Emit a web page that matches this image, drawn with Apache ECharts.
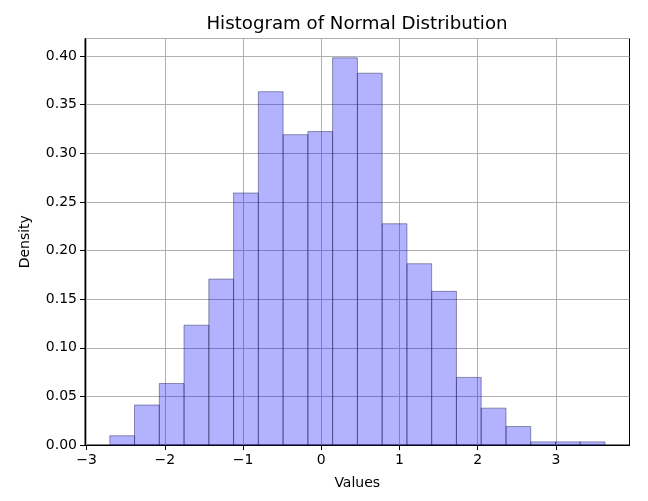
<!DOCTYPE html>
<html>
<head>
<meta charset="utf-8">
<script src="https://cdn.jsdelivr.net/npm/echarts@6/dist/echarts.min.js"></script>
<style>html,body{margin:0;padding:0;background:#fff;}#chart{width:648px;height:501px;}</style>
</head>
<body>
<div id="chart"></div>
<script>
const binEdges = [-2.703, -2.387, -2.070, -1.754, -1.437, -1.121, -0.804, -0.488, -0.171, 0.145, 0.462, 0.778, 1.095, 1.411, 1.728, 2.044, 2.361, 2.677, 2.994, 3.310, 3.627];
const densities = [0.0095, 0.0411, 0.0632, 0.1232, 0.1706, 0.2591, 0.3633, 0.3191, 0.3223, 0.3981, 0.3823, 0.2275, 0.1864, 0.1580, 0.0695, 0.0379, 0.0190, 0.0032, 0.0032, 0.0032];
const xTicks = [-3, -2, -1, 0, 1, 2, 3];
const titleText = 'Histogram of Normal Distribution';
const xName = 'Values';
const yName = 'Density';

const data = densities.map((d, i) => [binEdges[i], binEdges[i + 1], d]);

const chart = echarts.init(document.getElementById('chart'));
const font = 'DejaVu Sans';
chart.setOption({
  animation: false,
  backgroundColor: '#fff',
  title: {
    text: titleText, left: 352, top: 10, textAlign: 'center',
    textStyle: { fontFamily: font, fontSize: 18.2, fontWeight: 'normal', color: '#000' }
  },
  grid: { left: 85, top: 38.5, right: 18.5, bottom: 56, show: true, borderColor: '#000', borderWidth: 1, containLabel: false },
  xAxis: {
    type: 'value', min: -3.02, max: 3.94,
    name: xName, nameLocation: 'middle', nameGap: 31,
    nameTextStyle: { fontFamily: font, fontSize: 14, color: '#000' },
    axisLine: { show: true, onZero: false, lineStyle: { color: '#000', width: 1 } },
    axisTick: { show: true, inside: false, length: 5, customValues: xTicks, lineStyle: { color: '#000' } },
    axisLabel: { customValues: xTicks, margin: 8, fontFamily: font, fontSize: 14, color: '#000',
      formatter: v => String(v).replace('-', '\u2212') },
    splitLine: { show: true, lineStyle: { color: '#b0b0b0', width: 1 } }
  },
  yAxis: {
    type: 'value', min: 0, max: 0.418, interval: 0.05,
    name: yName, nameLocation: 'middle', nameGap: 53,
    nameTextStyle: { fontFamily: font, fontSize: 14, color: '#000' },
    axisLine: { show: true, onZero: false, lineStyle: { color: '#000', width: 1 } },
    axisTick: { show: true, length: 5, lineStyle: { color: '#000' } },
    axisLabel: { margin: 8, fontFamily: font, fontSize: 14, color: '#000', formatter: v => v.toFixed(2), showMaxLabel: false },
    splitLine: { show: true, lineStyle: { color: '#b0b0b0', width: 1 } }
  },
  series: [{
    type: 'custom',
    data: data,
    encode: { x: [0, 1], y: 2 },
    renderItem: function (params, api) {
      const p0 = api.coord([api.value(0), api.value(2)]);
      const p1 = api.coord([api.value(1), 0]);
      return {
        type: 'rect',
        shape: { x: p0[0], y: p0[1], width: p1[0] - p0[0], height: p1[1] - p0[1] },
        style: { fill: 'rgba(0,0,255,0.3)', stroke: 'rgba(30,30,80,0.45)', lineWidth: 1 }
      };
    }
  }]
});
</script>
</body>
</html>
